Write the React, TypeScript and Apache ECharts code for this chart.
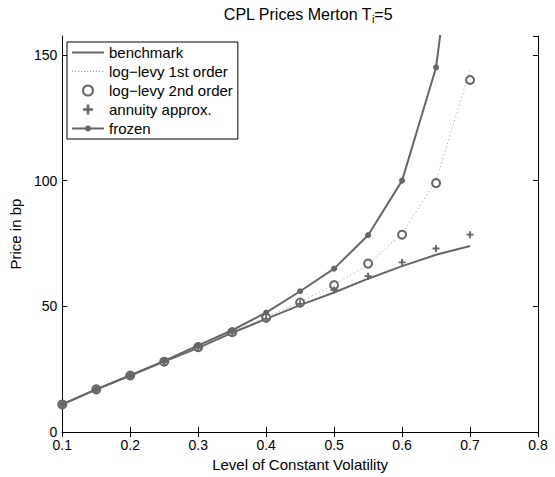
import React, { useEffect, useRef } from "react";
import * as echarts from "echarts";

const volatility = [0.1, 0.15, 0.2, 0.25, 0.3, 0.35, 0.4, 0.45, 0.5, 0.55, 0.6, 0.65, 0.7];
const benchmark = [11, 17, 22.5, 28, 33.5, 39.5, 45, 50.5, 55.5, 61, 66, 70.5, 74];
const logLevy1 = [11, 17, 22.5, 28, 33.8, 39.8, 45.7, 51.8, 58.5, 66.5, 79, 100, 144];
const logLevy2 = [11, 17, 22.5, 28, 33.8, 39.7, 45.5, 51.5, 58.5, 67, 78.5, 99, 140];
const annuity = [11, 17, 22.5, 28, 33.5, 39.5, 45, 51, 56.5, 62, 67.5, 73, 78.5];
const frozen = [11, 17, 22.5, 28.3, 34.5, 40.5, 47.5, 56, 65, 78.3, 100, 145, 250];
const seriesNames = ["benchmark", "log\u2212levy 1st order", "log\u2212levy 2nd order", "annuity approx.", "frozen"];

const pairs = (ys: number[]) => volatility.map((x, i) => [x, ys[i]]);

const GRAY = "#666666";
const DOT = "#9a9a9a";
const FONT = "Liberation Sans";

// legend icon paths with a 32x10 bounding box (corner anchors are zero-area)
const ANCH = "M0,0L0.01,0Z M32,10L31.99,10Z ";
const lineIcon = "path://" + ANCH + "M0,4.1H32V5.9H0Z";
let dots = "";
for (let i = 0; i < 32; i += 3) dots += `M${i},4.4H${i + 1.2}V5.6H${i}Z `;
const dotIcon = "path://" + ANCH + dots;
const frozenIcon = "path://" + ANCH + "M0,4.1H32V5.9H0Z M19,5A3,3 0 1,1 13,5A3,3 0 1,1 19,5Z";

export default function App() {
  const ref = useRef<HTMLDivElement>(null);
  useEffect(() => {
    const chart = echarts.init(ref.current!, null, { renderer: "svg" });
    const plus = "path://M-3,-0.8H-0.8V-3H0.8V-0.8H3V0.8H0.8V3H-0.8V0.8H-3Z";
    chart.setOption({
      animation: false,
      backgroundColor: "#ffffff",
      textStyle: { fontFamily: FONT },
      title: {
        text: "CPL Prices Merton T{sub|i}=5",
        left: 303,
        textAlign: "center",
        top: 0,
        textStyle: {
          fontFamily: FONT,
          fontSize: 16,
          fontWeight: "normal",
          color: "#000",
          rich: { sub: { fontSize: 11, verticalAlign: "bottom", padding: [8, 0, 0, 0], fontFamily: FONT } },
        },
      },
      grid: { left: 61, right: 17, top: 36, bottom: 41 },
      legend: {
        orient: "vertical",
        left: 67,
        top: 42,
        itemWidth: 32,
        itemHeight: 10,
        itemGap: 4,
        padding: [3, 5, 3, 5],
        backgroundColor: "#fff",
        borderColor: "#000",
        borderWidth: 1,
        borderRadius: 0,
        symbolKeepAspect: true,
        textStyle: { fontFamily: FONT, fontSize: 15, lineHeight: 15, color: "#000" },
        data: [
          { name: seriesNames[0], icon: lineIcon, itemStyle: { color: GRAY, borderWidth: 0 } },
          { name: seriesNames[1], icon: dotIcon, itemStyle: { color: DOT, borderWidth: 0 } },
          { name: seriesNames[2] },
          { name: seriesNames[3] },
          { name: seriesNames[4], icon: frozenIcon, itemStyle: { color: GRAY, borderWidth: 0 } },
        ],
      },
      xAxis: [
        {
          type: "value",
          min: 0.1,
          max: 0.8,
          interval: 0.1,
          name: "Level of Constant Volatility",
          nameLocation: "middle",
          nameGap: 21,
          nameTextStyle: { fontFamily: FONT, fontSize: 15, color: "#000" },
          axisLine: { show: true, lineStyle: { color: "#000", width: 1 } },
          axisTick: { show: true, inside: true, length: 5, lineStyle: { color: "#000" } },
          axisLabel: { color: "#000", fontSize: 14, fontFamily: FONT, margin: 6, formatter: (v: number) => String(Math.round(v * 10) / 10) },
          splitLine: { show: false },
        },
        {
          type: "value",
          position: "top",
          min: 0.1,
          max: 0.8,
          interval: 0.1,
          axisLine: { show: true, lineStyle: { color: "#000", width: 1 } },
          axisTick: { show: true, inside: true, length: 5, lineStyle: { color: "#000" } },
          axisLabel: { show: false },
          splitLine: { show: false },
        },
      ],
      yAxis: [
        {
          type: "value",
          min: 0,
          max: 157.5,
          interval: 50,
          name: "Price in bp",
          nameLocation: "middle",
          nameGap: 35,
          nameTextStyle: { fontFamily: FONT, fontSize: 15, color: "#000" },
          axisLine: { show: true, lineStyle: { color: "#000", width: 1 } },
          axisTick: { show: true, inside: true, length: 5, lineStyle: { color: "#000" } },
          axisLabel: { color: "#000", fontSize: 14, fontFamily: FONT, margin: 5, showMaxLabel: false },
          splitLine: { show: false },
        },
        {
          type: "value",
          position: "right",
          min: 0,
          max: 157.5,
          interval: 50,
          axisLine: { show: true, lineStyle: { color: "#000", width: 1 } },
          axisTick: { show: true, inside: true, length: 5, lineStyle: { color: "#000" } },
          axisLabel: { show: false },
          splitLine: { show: false },
        },
      ],
      series: [
        {
          name: seriesNames[0],
          type: "line",
          data: pairs(benchmark),
          showSymbol: false,
          symbol: "none",
          lineStyle: { color: GRAY, width: 2 },
          itemStyle: { color: GRAY },
        },
        {
          name: seriesNames[1],
          type: "line",
          data: pairs(logLevy1),
          symbol: "none",
          lineStyle: { color: DOT, width: 1, type: [1, 3] },
          itemStyle: { color: DOT },
        },
        {
          name: seriesNames[2],
          type: "scatter",
          data: pairs(logLevy2),
          symbol: "circle",
          symbolSize: 8,
          itemStyle: { color: "#fff", borderColor: GRAY, borderWidth: 2, opacity: 1 },
          z: 3,
        },
        {
          name: seriesNames[3],
          type: "scatter",
          data: pairs(annuity),
          symbol: plus,
          symbolSize: 7,
          itemStyle: { color: GRAY, opacity: 1 },
          z: 3,
        },
        {
          name: seriesNames[4],
          type: "line",
          data: pairs(frozen),
          symbol: "circle",
          symbolSize: 6,
          lineStyle: { color: GRAY, width: 2 },
          itemStyle: { color: GRAY, borderWidth: 0 },
          z: 4,
        },
      ],
    });
    return () => chart.dispose();
  }, []);
  return <div ref={ref} style={{ position: "fixed", left: 0, top: 0, width: 555, height: 477 }} />;
}
